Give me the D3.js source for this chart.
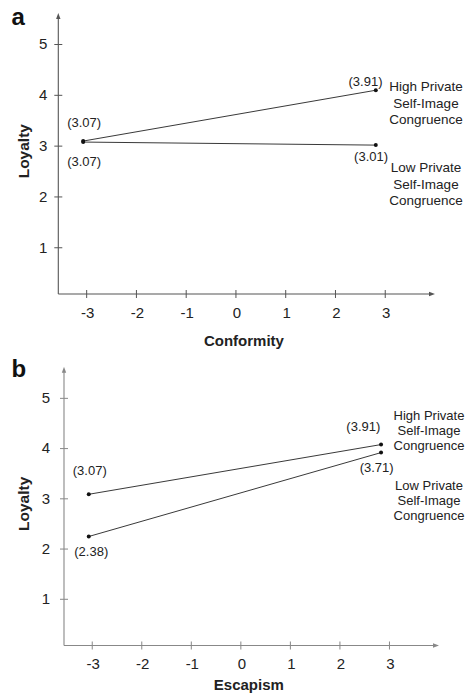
<!DOCTYPE html>
<html>
<head>
<meta charset="utf-8">
<script src="https://cdn.jsdelivr.net/npm/d3@7"></script>
<style>
  body { margin: 0; background: #fff; }
  svg { display: block; font-family: "Liberation Sans", Arial, Helvetica, sans-serif; }
</style>
</head>
<body>
<div id="chart"></div>
<script>
// tick values shared by both panels
const xTicks = [-3, -2, -1, 0, 1, 2, 3];
const yTicks = [1, 2, 3, 4, 5];
const groupNames = ["High Private Self-Image Congruence", "Low Private Self-Image Congruence"];

// panel a: conformity (plotted positions, as drawn)
const conformityX = [-3.07, 2.81];
const conformityHigh = [3.10, 4.10];
const conformityLow = [3.08, 3.02];
const conformityHighLabels = ["(3.07)", "(3.91)"];
const conformityLowLabels = ["(3.07)", "(3.01)"];

// panel b: escapism
const escapismX = [-3.07, 2.83];
const escapismHigh = [3.09, 4.08];
const escapismLow = [2.25, 3.92];
const escapismHighLabels = ["(3.07)", "(3.91)"];
const escapismLowLabels = ["(2.38)", "(3.71)"];

const W = 465, H = 695;
const svg = d3.select("#chart").append("svg").attr("width", W).attr("height", H);

const textColor = "#222";

function drawPanel(opt) {
  const x = d3.scaleLinear().domain([-3.57, 4.0]).range([opt.left, opt.right]);
  const y = d3.scaleLinear().domain(opt.yDomain).range([opt.bottom, opt.top]);
  const g = svg.append("g");
  const axisColor = opt.axisColor;

  // axis lines with small arrow heads
  g.append("line").attr("x1", x(-3.57)).attr("x2", x(4.0) - 3)
    .attr("y1", opt.bottom).attr("y2", opt.bottom)
    .attr("stroke", axisColor).attr("stroke-width", 1.1);
  g.append("path")
    .attr("d", `M${x(4.0)},${opt.bottom} l-6,-2.2 l0,4.4 z`)
    .attr("fill", axisColor);
  g.append("line").attr("x1", opt.left).attr("x2", opt.left)
    .attr("y1", opt.bottom).attr("y2", opt.top + 3)
    .attr("stroke", axisColor).attr("stroke-width", 1.1);
  g.append("path")
    .attr("d", `M${opt.left},${opt.top} l-2.2,6 l4.4,0 z`)
    .attr("fill", axisColor);

  // ticks crossing the axes
  g.selectAll(".xt").data(xTicks).join("line")
    .attr("x1", d => x(d)).attr("x2", d => x(d))
    .attr("y1", opt.bottom - 4).attr("y2", opt.bottom + 4)
    .attr("stroke", axisColor).attr("stroke-width", 1);
  g.selectAll(".xl").data(xTicks).join("text")
    .attr("x", d => x(d) + 1).attr("y", opt.bottom + opt.xLabelGap)
    .attr("text-anchor", "middle").attr("font-size", 15).attr("fill", textColor)
    .text(d => d);
  g.selectAll(".yt").data(yTicks).join("line")
    .attr("x1", opt.left - 4).attr("x2", opt.left + 4)
    .attr("y1", d => y(d)).attr("y2", d => y(d))
    .attr("stroke", axisColor).attr("stroke-width", 1);
  g.selectAll(".yl").data(yTicks).join("text")
    .attr("x", opt.left - opt.yLabelGap).attr("y", d => y(d) + 4.8)
    .attr("text-anchor", "end").attr("font-size", 15).attr("fill", textColor)
    .text(d => d);

  // titles
  g.append("text").attr("x", 11.5).attr("y", opt.letterY)
    .attr("font-size", 24).attr("font-weight", "bold").attr("fill", "#111")
    .text(opt.letter);
  g.append("text")
    .attr("transform", `translate(${opt.titleX},${y(2.9)}) rotate(-90)`)
    .attr("text-anchor", "middle").attr("font-size", 15.5).attr("font-weight", "bold")
    .attr("fill", textColor).text("Loyalty");
  g.append("text").attr("x", x(0) + 8).attr("y", opt.bottom + opt.xTitleGap)
    .attr("text-anchor", "middle").attr("font-size", 15).attr("font-weight", "bold")
    .attr("fill", textColor).text(opt.xTitle);

  // lines and points
  const series = [
    { vals: opt.high, labels: opt.highLabels, pos: opt.highPos, name: groupNames[0], cap: opt.highName },
    { vals: opt.low, labels: opt.lowLabels, pos: opt.lowPos, name: groupNames[1], cap: opt.lowName }
  ];
  const line = d3.line().x(d => x(d[0])).y(d => y(d[1]));
  series.forEach(s => {
    const pts = opt.xs.map((v, i) => [v, s.vals[i]]);
    g.append("path").attr("d", line(pts))
      .attr("fill", "none").attr("stroke", "#222").attr("stroke-width", 0.9);
    g.selectAll(null).data(pts).join("circle")
      .attr("cx", d => x(d[0])).attr("cy", d => y(d[1])).attr("r", 2)
      .attr("fill", "#111");
    pts.forEach((p, i) => {
      const o = s.pos[i];
      g.append("text")
        .attr("x", x(p[0]) + o[0]).attr("y", y(p[1]) + o[1])
        .attr("text-anchor", o[2]).attr("font-size", 13).attr("fill", textColor)
        .text(s.labels[i]);
    });
    // group caption, three lines
    const words = [s.name.split(" Self-Image")[0], "Self-Image", "Congruence"];
    const last = pts[pts.length - 1];
    g.append("text")
      .attr("x", s.cap[0]).attr("y", y(last[1]) + s.cap[1])
      .attr("text-anchor", "middle").attr("font-size", opt.capSize).attr("fill", textColor)
      .selectAll("tspan").data(words).join("tspan")
      .attr("x", s.cap[0]).attr("dy", (d, i) => i === 0 ? 0 : opt.capLead)
      .text(d => d);
  });
}

drawPanel({
  letter: "a", letterY: 25, xTitle: "Conformity", axisColor: "#555",
  left: 58.3, right: 435, top: 13, bottom: 294, yDomain: [0.09, 5.62],
  xLabelGap: 24, yLabelGap: 11, xTitleGap: 51.7, titleX: 28.5,
  capSize: 13.5, capLead: 16.5,
  xs: conformityX, high: conformityHigh, low: conformityLow,
  highLabels: conformityHighLabels, lowLabels: conformityLowLabels,
  highPos: [[1, -13.7, "middle"], [6.7, -4, "end"]],
  lowPos: [[1, 24.3, "middle"], [12.3, 16.3, "end"]],
  highName: [426, 1], lowName: [426, 27.3]
});

drawPanel({
  letter: "b", letterY: 377, xTitle: "Escapism", axisColor: "#888",
  left: 64, right: 439, top: 366.7, bottom: 645.5, yDomain: [0.08, 5.63],
  xLabelGap: 23, yLabelGap: 14, xTitleGap: 44.5, titleX: 29,
  capSize: 13, capLead: 15.3,
  xs: escapismX, high: escapismHigh, low: escapismLow,
  highLabels: escapismHighLabels, lowLabels: escapismLowLabels,
  highPos: [[1, -19, "middle"], [-0.7, -14, "end"]],
  lowPos: [[2.5, 19.7, "middle"], [12.6, 19, "end"]],
  highName: [429, -25], lowName: [429, 37]
});
</script>
</body>
</html>
